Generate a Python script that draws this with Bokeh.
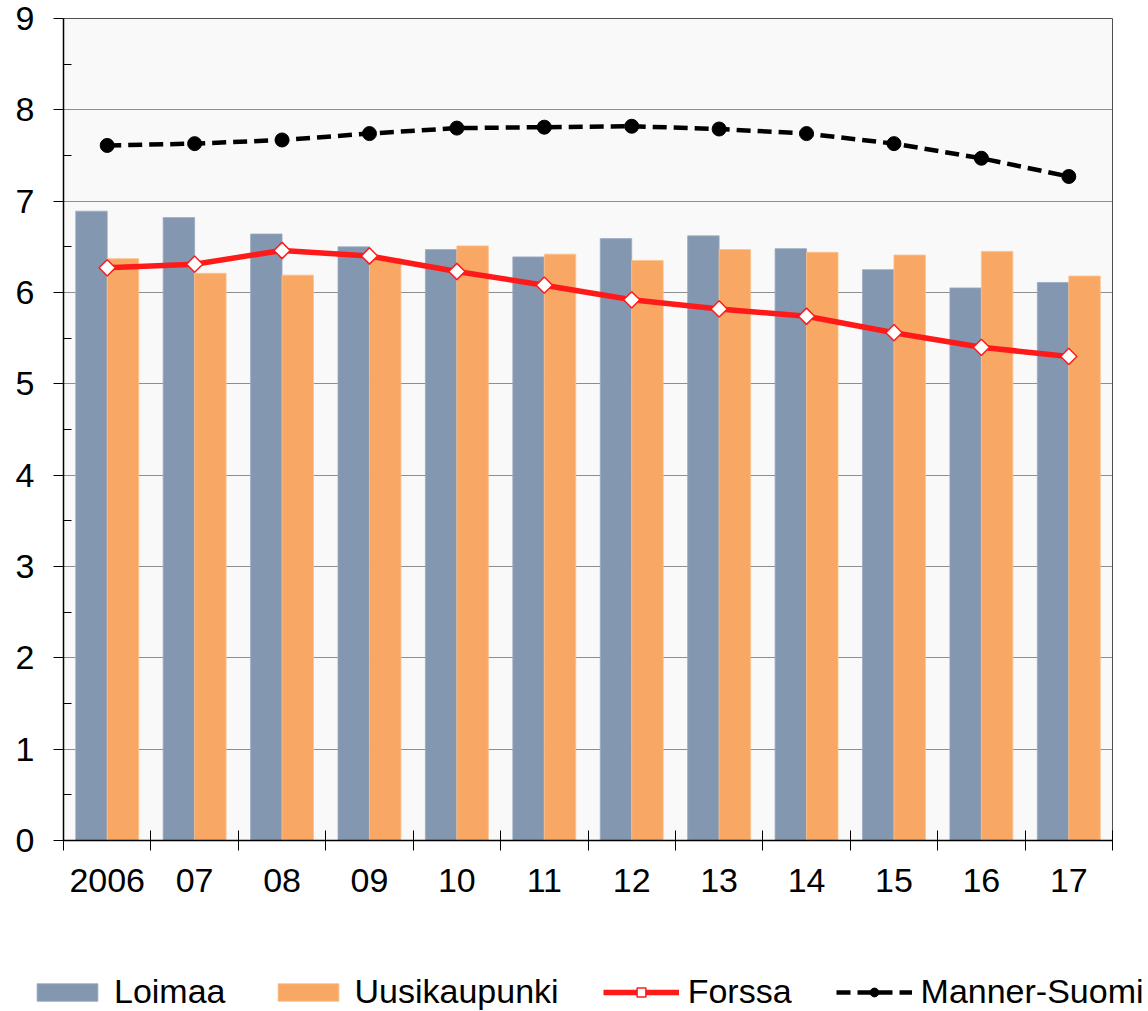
import numpy as np
from bokeh.plotting import figure
from bokeh.layouts import column
from bokeh.models import Range1d, FixedTicker, Legend, LegendItem
from bokeh.embed import file_html
from bokeh.resources import INLINE

years = ["2006", "07", "08", "09", "10", "11", "12", "13", "14", "15", "16", "17"]
loimaa = [6.89, 6.82, 6.64, 6.50, 6.47, 6.39, 6.59, 6.62, 6.48, 6.25, 6.05, 6.11]
uusikaupunki = [6.37, 6.21, 6.19, 6.37, 6.51, 6.42, 6.35, 6.47, 6.44, 6.41, 6.45, 6.18]
forssa = [6.27, 6.31, 6.46, 6.40, 6.23, 6.08, 5.92, 5.82, 5.74, 5.56, 5.40, 5.30]
manner_suomi = [7.61, 7.63, 7.67, 7.74, 7.80, 7.81, 7.82, 7.79, 7.74, 7.63, 7.47, 7.27]
series_names = ["Loimaa", "Uusikaupunki", "Forssa", "Manner-Suomi"]
y_ticks = list(range(0, 10))

FONT = "Liberation Sans"
LO_COLOR, UU_COLOR, FO_COLOR, MA_COLOR = "#8497b0", "#f8a864", "#ff1a1a", "black"
n = len(years)
centers = np.arange(n) + 0.5
bw = 0.36

W = 1148
H1 = 910
H2 = 101

p = figure(width=W, height=H1, output_backend="svg", toolbar_location=None,
           x_range=Range1d(0, n), y_range=Range1d(0, 9),
           min_border_left=63, min_border_right=W - 1112, min_border_top=18,
           min_border_bottom=H1 - 840)
p.background_fill_color = "#f9f9f9"
p.border_fill_color = "white"
p.outline_line_color = "#505050"
p.outline_line_width = 1


def draw(fig):
    r_lo = fig.vbar(x=centers - bw / 2, top=loimaa, width=bw, bottom=0,
                    fill_color=LO_COLOR, line_color="#9aabc0", line_width=0.8)
    r_uu = fig.vbar(x=centers + bw / 2, top=uusikaupunki, width=bw, bottom=0,
                    fill_color=UU_COLOR, line_color="#fbc08c", line_width=0.8)
    r_fl = fig.line(centers, forssa, line_color=FO_COLOR, line_width=5.5)
    r_fm = fig.scatter(centers, forssa, marker="square", angle=np.pi / 4, size=11.5,
                       fill_color="white", line_color=FO_COLOR, line_width=1.5)
    r_ml = fig.line(centers, manner_suomi, line_color=MA_COLOR, line_width=4.5,
                    line_dash="14 7")
    r_mm = fig.scatter(centers, manner_suomi, marker="circle", size=14,
                       fill_color=MA_COLOR, line_color=MA_COLOR)
    return r_lo, r_uu, r_fl, r_fm, r_ml, r_mm


draw(p)

# axes
xa = p.xaxis[0]
xa.ticker = FixedTicker(ticks=list(centers), minor_ticks=list(np.arange(0, n + 1)))
xa.major_label_overrides = {float(c): y for c, y in zip(centers, years)}
xa.major_tick_in = 0
xa.major_tick_out = 0
xa.minor_tick_in = 10
xa.minor_tick_out = 10
xa.minor_tick_line_color = "black"
xa.minor_tick_line_width = 1
xa.axis_line_color = "black"
xa.axis_line_width = 1.5
xa.major_label_text_font = FONT
xa.major_label_text_font_size = "34px"
xa.major_label_text_color = "black"
xa.major_label_standoff = 18

ya = p.yaxis[0]
ya.ticker = FixedTicker(ticks=y_ticks, minor_ticks=[t + 0.5 for t in y_ticks[:-1]])
ya.major_tick_in = 0
ya.major_tick_out = 10
ya.major_tick_line_color = "black"
ya.minor_tick_in = 8
ya.minor_tick_out = 0
ya.minor_tick_line_color = "black"
ya.axis_line_color = "black"
ya.axis_line_width = 1.5
ya.major_label_text_font = FONT
ya.major_label_text_font_size = "34px"
ya.major_label_text_color = "black"
ya.major_label_standoff = 19

p.xgrid.visible = False
p.ygrid.grid_line_color = "#222222"
p.ygrid.grid_line_width = 1
p.ygrid.grid_line_dash = "1 1"

# legend strip: a second figure whose view window lies above the data,
# so its renderers only serve as legend swatches
q = figure(width=W, height=H2, output_backend="svg", toolbar_location=None,
           x_axis_location=None, y_axis_location=None,
           x_range=Range1d(0, n), y_range=Range1d(20, 21),
           min_border_left=0, min_border_right=0, min_border_top=0, min_border_bottom=0)
q.grid.visible = False
q.outline_line_color = None
q.background_fill_color = "white"
q.border_fill_color = "white"
for fig in (p, q):
    if "frame_align" in fig.properties():
        fig.frame_align = False
lr = draw(q)

legend = Legend(items=[
    LegendItem(label=series_names[0], renderers=[lr[0]]),
    LegendItem(label=series_names[1], renderers=[lr[1]]),
    LegendItem(label=series_names[2], renderers=[lr[2], lr[3]]),
    LegendItem(label=series_names[3], renderers=[lr[4], lr[5]]),
], orientation="horizontal", location=(29, 0))
legend.label_text_font = FONT
legend.label_text_font_size = "34px"
legend.label_text_color = "black"
legend.glyph_width = 76
legend.glyph_height = 22
legend.label_standoff = 9
legend.spacing = 44
legend.padding = 0
legend.margin = 0
legend.border_line_alpha = 0
legend.background_fill_alpha = 0
q.add_layout(legend, "center")

layout = column(p, q, spacing=0)
open("out.html", "w").write(file_html(layout, INLINE))
